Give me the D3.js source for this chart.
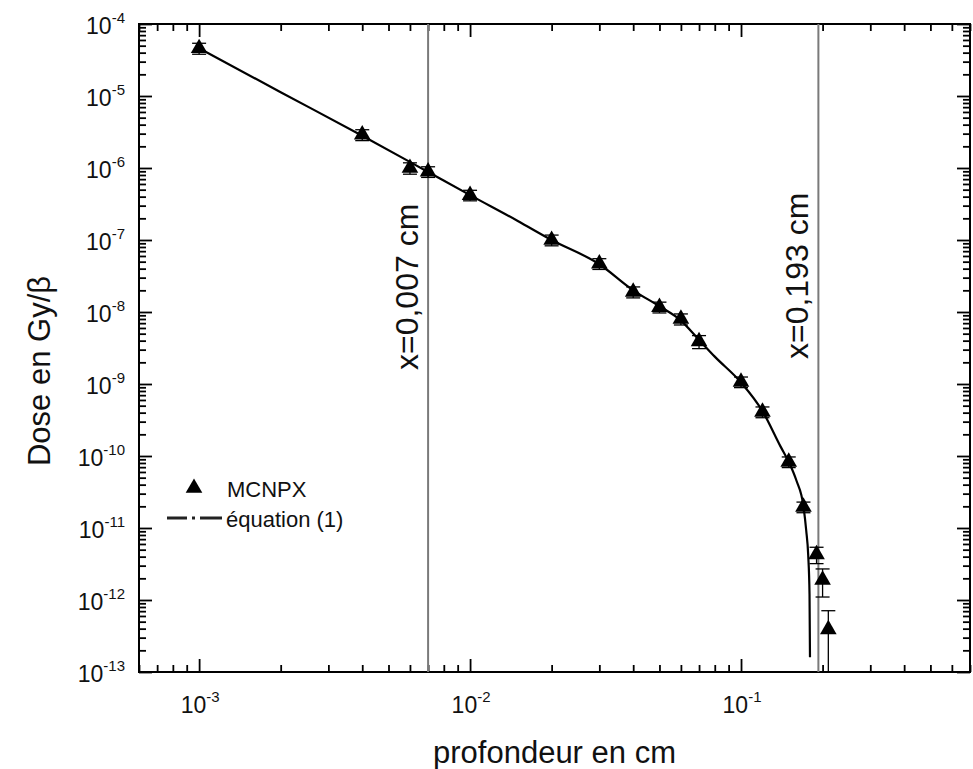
<!DOCTYPE html>
<html>
<head>
<meta charset="utf-8">
<script src="https://cdn.jsdelivr.net/npm/d3@7"></script>
<style>
  body { margin: 0; background: #fff; }
  svg { display: block; font-family: "Liberation Sans", Arial, sans-serif; }
</style>
</head>
<body>
<svg id="chart" width="973" height="769"></svg>
<script>
// points MCNPX (profondeur en cm, dose en Gy/beta, incertitude)
const mcnpxX = [0.001, 0.004, 0.006, 0.007, 0.01, 0.02, 0.03, 0.04, 0.05, 0.06, 0.07, 0.1, 0.12, 0.15, 0.17, 0.19, 0.2, 0.21];
const mcnpxY = [4.6e-5, 2.9e-6, 1.0e-6, 8.9e-7, 4.2e-7, 1.0e-7, 4.7e-8, 1.9e-8, 1.17e-8, 8.0e-9, 3.9e-9, 1.07e-9, 4.1e-10, 8.3e-11, 1.96e-11, 4.3e-12, 1.9e-12, 3.9e-13];
const mcnpxErr = [8e-6, 5e-7, 1.8e-7, 1.5e-7, 7e-8, 1.7e-8, 8e-9, 3.3e-9, 2.0e-9, 1.4e-9, 8e-10, 1.8e-10, 7e-11, 1.4e-11, 3.3e-12, 1.1e-12, 0.8e-12, 3.2e-13];

// courbe equation (1)
const eqX = [0.001, 0.002, 0.004, 0.007, 0.01, 0.015, 0.02, 0.03, 0.04, 0.05, 0.06, 0.07, 0.08, 0.1, 0.12, 0.14, 0.15, 0.16, 0.17, 0.174, 0.177, 0.179, 0.1797];
const eqY = [4.6e-5, 1.13e-5, 2.8e-6, 8.8e-7, 4.2e-7, 1.84e-7, 1.0e-7, 4.6e-8, 2.0e-8, 1.2e-8, 7.6e-9, 4.1e-9, 2.4e-9, 1.05e-9, 4.2e-10, 1.35e-10, 8.3e-11, 4.6e-11, 2.0e-11, 9.3e-12, 4.2e-12, 1.2e-12, 1.6e-13];

// lignes verticales
const markX = [0.007, 0.193];
const markLabels = ["x=0,007 cm", "x=0,193 cm"];

const xTickExp = [-3, -2, -1];
const yTickExp = [-4, -5, -6, -7, -8, -9, -10, -11, -12, -13];

const svg = d3.select("#chart");
const pLeft = 139, pRight = 970, pTop = 24, pBottom = 672;

const x = d3.scaleLog().domain([6e-4, 0.7]).range([pLeft, pRight]);
const y = d3.scaleLog().domain([1e-13, 1e-4]).range([pBottom, pTop]);

const xMajor = xTickExp.map(e => Math.pow(10, e));
const yMajor = yTickExp.map(e => Math.pow(10, e));
const xMinor = x.ticks().filter(v => !xMajor.some(m => Math.abs(m - v) / m < 1e-6));
const yMinor = y.ticks().filter(v => !yMajor.some(m => Math.abs(m - v) / m < 1e-6));

// graduations vers l'interieur sur les 4 cotes
const axes = [
  [d3.axisBottom, `translate(0,${pBottom})`, x],
  [d3.axisTop, `translate(0,${pTop})`, x],
  [d3.axisLeft, `translate(${pLeft},0)`, y],
  [d3.axisRight, `translate(${pRight},0)`, y]
];
axes.forEach(([ax, tr, sc]) => {
  const major = sc === x ? xMajor : yMajor;
  const minor = sc === x ? xMinor : yMinor;
  [[minor, 7], [major, 13]].forEach(([vals, len]) => {
    const g = svg.append("g")
      .attr("transform", tr)
      .call(ax(sc).tickValues(vals).tickSize(-len).tickFormat(""));
    g.select(".domain").remove();
    g.selectAll("line").attr("stroke", "#000").attr("stroke-width", 1.8);
  });
});

// cadre
svg.append("rect")
  .attr("x", pLeft).attr("y", pTop)
  .attr("width", pRight - pLeft).attr("height", pBottom - pTop)
  .attr("fill", "none").attr("stroke", "#000").attr("stroke-width", 2);

// etiquettes 10^n
xTickExp.forEach(e => {
  const t = svg.append("text")
    .attr("x", x(Math.pow(10, e)) + 1)
    .attr("y", 713)
    .attr("text-anchor", "middle")
    .attr("font-size", 23)
    .attr("fill", "#111");
  t.append("tspan").text("10");
  t.append("tspan").attr("dy", -11).attr("font-size", 15).text(e);
});
yTickExp.forEach(e => {
  const t = svg.append("text")
    .attr("x", 125)
    .attr("y", y(Math.pow(10, e)) + 10)
    .attr("text-anchor", "end")
    .attr("font-size", 23)
    .attr("fill", "#111");
  t.append("tspan").text("10");
  t.append("tspan").attr("dy", -11).attr("font-size", 15).text(e);
});

// titres des axes
svg.append("text")
  .attr("x", (pLeft + pRight) / 2).attr("y", 763)
  .attr("text-anchor", "middle")
  .attr("font-size", 31).attr("fill", "#111")
  .text("profondeur en cm");
svg.append("text")
  .attr("transform", "translate(50,371) rotate(-90)")
  .attr("text-anchor", "middle")
  .attr("font-size", 31).attr("fill", "#111")
  .text("Dose en Gy/β");

// lignes verticales + etiquettes
const labelStart = [370, 359];
markX.forEach((m, i) => {
  svg.append("line")
    .attr("x1", x(m)).attr("x2", x(m))
    .attr("y1", pTop).attr("y2", pBottom)
    .attr("stroke", "#7a7a7a").attr("stroke-width", 2);
  svg.append("text")
    .attr("transform", `translate(${x(m) - 10},${labelStart[i]}) rotate(-90)`)
    .attr("font-size", 32).attr("fill", "#111")
    .text(markLabels[i]);
});

// courbe equation (1)
const eqData = eqX.map((v, i) => [v, eqY[i]]);
svg.append("path")
  .datum(eqData)
  .attr("fill", "none")
  .attr("stroke", "#000")
  .attr("stroke-width", 2.2)
  .attr("d", d3.line().x(d => x(d[0])).y(d => y(d[1])).curve(d3.curveMonotoneX));

// barres d'erreur
const pts = mcnpxX.map((v, i) => ({ x: v, y: mcnpxY[i], e: mcnpxErr[i] }));
const [yLo, yHi] = y.domain();
const capW = 7;
pts.forEach(p => {
  const lo = p.y - p.e, hi = p.y + p.e;
  const yl = lo > yLo ? y(lo) : pBottom;
  const yh = y(Math.min(hi, yHi));
  const cx = x(p.x);
  const g = svg.append("g").attr("stroke", "#000").attr("stroke-width", 1.3);
  g.append("line").attr("x1", cx).attr("x2", cx).attr("y1", yl).attr("y2", yh);
  g.append("line").attr("x1", cx - capW).attr("x2", cx + capW).attr("y1", yh).attr("y2", yh);
  if (lo > yLo) g.append("line").attr("x1", cx - capW).attr("x2", cx + capW).attr("y1", yl).attr("y2", yl);
});

// triangles
const tri = d3.symbol().type(d3.symbolTriangle).size(120);
svg.selectAll(".pt")
  .data(pts)
  .enter()
  .append("path")
    .attr("class", "pt")
    .attr("transform", d => `translate(${x(d.x)},${y(d.y)})`)
    .attr("d", tri)
    .attr("fill", "#000");

// legende
const leg = svg.append("g");
leg.append("path")
  .attr("transform", "translate(194,488)")
  .attr("d", tri).attr("fill", "#000");
leg.append("text")
  .attr("x", 227).attr("y", 497)
  .attr("font-size", 22).attr("fill", "#111")
  .text("MCNPX");
leg.append("line")
  .attr("x1", 167).attr("x2", 222).attr("y1", 518).attr("y2", 518)
  .attr("stroke", "#222").attr("stroke-width", 3)
  .attr("stroke-dasharray", "20,5,3,5,22");
leg.append("text")
  .attr("x", 226).attr("y", 527)
  .attr("font-size", 22).attr("fill", "#111")
  .text("équation (1)");
</script>
</body>
</html>
